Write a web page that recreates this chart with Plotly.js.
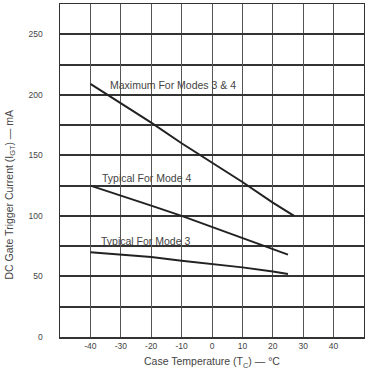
<!DOCTYPE html>
<html>
<head>
<meta charset="utf-8">
<script src="https://cdn.plot.ly/plotly-3.0.1.min.js"></script>
<style>html,body{margin:0;padding:0;background:#fff}#chart{width:365px;height:377px}</style>
</head>
<body>
<div id="chart"></div>
<script>
// Data
const tempC = [-40, -30, -20, -10, 0, 10, 20, 27];
const maxModes34 = [209, 193, 177, 160, 144, 128, 111, 100];
const tempTyp4 = [-40, -30, -20, -10, 0, 10, 20, 25];
const typMode4 = [125, 117, 108.5, 100, 91, 82, 73, 68];
const tempTyp3 = [-40, -30, -20, -10, 0, 10, 20, 25];
const typMode3 = [70, 68, 66, 63, 60.5, 57.5, 54, 52];

const xTickVals = [-40, -30, -20, -10, 0, 10, 20, 30, 40];
const xTickText = ["-40", "-30", "-20", "-10", "0", "10", "20", "30", "40"];
const yTickVals = [0, 50, 100, 150, 200, 250];
const yTickText = ["0", "50", "100", "150", "200", "250"];

const labels = [
  {text: "Maximum For Modes 3 & 4", x: -34.3, y: 208},
  {text: "Typical For Mode 4", x: -36.8, y: 131},
  {text: "Typical For Mode 3", x: -37.2, y: 79.5}
];

const lineStyle = {color: "#222", width: 2};
const traces = [
  {x: tempC, y: maxModes34, mode: "lines", line: lineStyle, name: "Maximum For Modes 3 & 4"},
  {x: tempTyp4, y: typMode4, mode: "lines", line: lineStyle, name: "Typical For Mode 4"},
  {x: tempTyp3, y: typMode3, mode: "lines", line: lineStyle, name: "Typical For Mode 3"}
];

const font = {family: "Liberation Sans, Arial, sans-serif", color: "#444"};

const annotations = labels.map(l => ({
  text: l.text, x: l.x, y: l.y, xref: "x", yref: "y",
  xanchor: "left", yanchor: "middle", showarrow: false,
  font: Object.assign({}, font, {size: 10.5})
}));
annotations.push({
  text: "DC Gate Trigger Current (I<sub>GT</sub>) — mA",
  xref: "paper", yref: "paper", x: -0.1645, y: 0.428,
  xanchor: "center", yanchor: "middle", textangle: -90, showarrow: false,
  font: Object.assign({}, font, {size: 10.5})
});

const layout = {
  width: 365, height: 377,
  margin: {l: 60, r: 1, t: 4, b: 40},
  paper_bgcolor: "#fff", plot_bgcolor: "#fff",
  showlegend: false,
  font: font,
  xaxis: {
    range: [-50, 50], tickvals: xTickVals, ticktext: xTickText,
    showgrid: true, gridcolor: "#555", gridwidth: 1,
    zeroline: false, showline: true, mirror: true, linecolor: "#333", linewidth: 1.5,
    ticks: "", tickfont: Object.assign({}, font, {size: 8.5}),
    title: {text: "Case Temperature (T<sub>C</sub>) — °C", font: Object.assign({}, font, {size: 10.5}), standoff: 8},
    fixedrange: true
  },
  yaxis: {
    range: [0, 275], tickvals: yTickVals, ticktext: yTickText,
    showgrid: true, gridcolor: "#333", gridwidth: 2,
    minor: {tick0: 0, dtick: 25, showgrid: true, gridcolor: "#333", gridwidth: 2, ticks: ""},
    zeroline: false, showline: true, mirror: true, linecolor: "#333", linewidth: 1.5,
    ticks: "", ticklabelstandoff: 14, tickfont: Object.assign({}, font, {size: 8.5}),
    fixedrange: true
  },
  annotations: annotations
};

Plotly.newPlot("chart", traces, layout, {staticPlot: true, displayModeBar: false});
</script>
</body>
</html>
